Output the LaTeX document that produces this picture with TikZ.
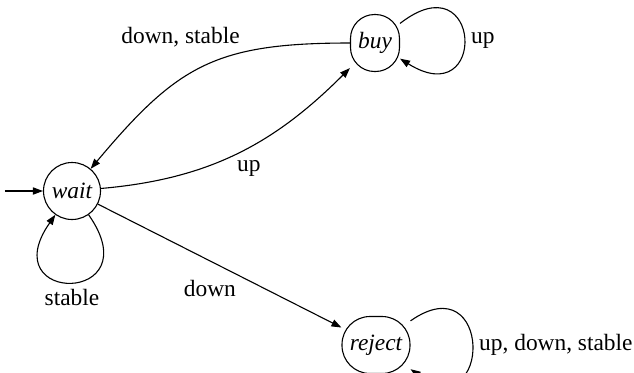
\documentclass[tikz,border=0pt]{standalone}
\usepackage{fontspec}
\setmainfont{Liberation Serif}
\usetikzlibrary{arrows.meta,positioning}
\tikzset{
    % Arrows
    arrow tip/.tip={Triangle[length=5pt,width=3.6pt]},
    arr/.style={->,>={arrow tip},line width=.55pt},
    %
    % States
    state/.style={draw,line width=.55pt,circle,minimum size=28.5pt,inner sep=0pt,
        font=\fontsize{11.7}{14}\selectfont\itshape},
    round state/.style={draw,line width=.55pt,rectangle,rounded corners=#1,
        minimum height=28.5pt,inner sep=0pt,font=\fontsize{11.7}{14}\selectfont\itshape},
    round state/.default=12pt
}
\tikzstyle{every node}=[font=\fontsize{11.7}{14}\selectfont]

\begin{document}
\begin{tikzpicture}[x=.5pt,y=-.5pt]
    \useasboundingbox (0,0) rectangle (634,372);
    \node[state] (wait) at (72,191) {wait};
    \node[round state,minimum width=24.5pt] (buy) at (375,43) {buy};
    \node[round state=14pt,minimum width=34pt] (reject) at (376,345) {reject};
    \coordinate (start) at (5,191);
    \draw[arr] (start) -- (wait);
    \draw[arr] (wait) to[out=5,in=225] node[pos=.55,below=3pt] {up} (buy);
    \draw[arr] (buy) to[out=180,in=50,looseness=1.2] node[pos=.6,above=13pt] {down, stable} (wait);
    \draw[arr] (wait) -- node[pos=.46,below=6pt] {down} (reject);
    % self loops
    \draw[arr] (wait) to[out=-55,in=-125,min distance=55pt] node[below] {stable} (wait);
    \draw[arr] (buy) to[out=38,in=-32,min distance=52pt] node[right,yshift=-1.5pt] {up} (buy);
    \draw[arr] (reject) to[out=35,in=-35,min distance=50pt] node[right] {up, down, stable} (reject);
\end{tikzpicture}
\end{document}
